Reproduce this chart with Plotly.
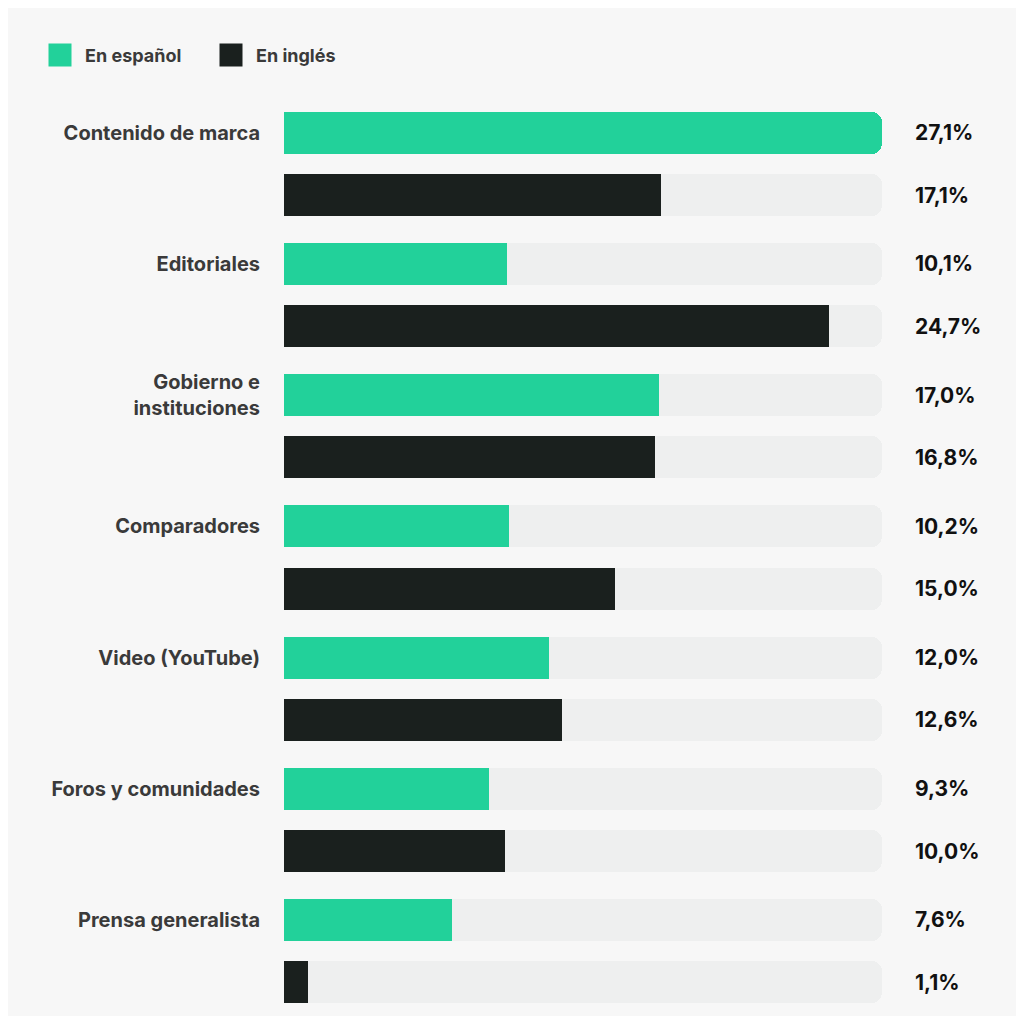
import plotly.graph_objects as go

# Data
categories = ["Contenido de marca", "Editoriales", "Gobierno e<br>instituciones", "Comparadores",
              "Video (YouTube)", "Foros y comunidades", "Prensa generalista"]
espanol = [27.1, 10.1, 17.0, 10.2, 12.0, 9.3, 7.6]
ingles = [17.1, 24.7, 16.8, 15.0, 12.6, 10.0, 1.1]
series_names = ["En español", "En inglés"]

GREEN = "#22D19A"
DARK = "#1A201E"
TRACK = "#EEEFEF"
BG = "#F7F7F7"
FONT = "Inter"

max_val = max(espanol + ingles)

# each category takes two rows: spanish then english (pairs slightly tighter)
rows_es = [2 * i for i in range(len(categories))]
rows_en = [2 * i + 0.95 for i in range(len(categories))]
all_rows = rows_es + rows_en
all_vals = espanol + ingles
BAR_W = 0.64

fig = go.Figure()

# background tracks
fig.add_trace(go.Bar(
    x=[max_val] * len(all_rows), y=all_rows, orientation='h',
    marker=dict(color=TRACK, cornerradius=10, line=dict(width=0)),
    width=BAR_W, showlegend=False, hoverinfo='skip'
))

fig.add_trace(go.Bar(
    x=espanol, y=rows_es, orientation='h', name=series_names[0],
    marker=dict(color=GREEN, cornerradius=10, line=dict(width=0)),
    width=BAR_W
))
fig.add_trace(go.Bar(
    x=ingles, y=rows_en, orientation='h', name=series_names[1],
    marker=dict(color=DARK, cornerradius=10, line=dict(width=0)),
    width=BAR_W
))

# value labels to the right of the tracks
for r, v in zip(all_rows, all_vals):
    fig.add_annotation(
        x=1.052, xref='paper', y=r, yref='y', xanchor='left',
        text=f"<b>{v:.1f}%</b>".replace('.', ','), showarrow=False,
        font=dict(size=21, color="#111111", family=FONT)
    )

# legend drawn by hand: coloured boxes + labels
legend_y = 1.049
for box_x, text_x, color, name in [(-0.3946, -0.336, GREEN, series_names[0]),
                                   (-0.1087, -0.0502, DARK, series_names[1])]:
    fig.add_annotation(x=box_x, y=legend_y, xref='paper', yref='paper', xanchor='left',
                       yanchor='middle', text="", width=22, height=22, bgcolor=color,
                       showarrow=False, borderpad=0)
    fig.add_annotation(x=text_x, y=legend_y, xref='paper', yref='paper', xanchor='left',
                       yanchor='middle', text=f"<b>{name}</b>", showarrow=False,
                       font=dict(size=18, color="#3a3a3a", family=FONT))

fig.update_layout(
    width=1008, height=1008,
    paper_bgcolor=BG, plot_bgcolor=BG,
    barmode='overlay', bargap=0,
    margin=dict(l=276, r=134, t=92, b=1),
    font=dict(family=FONT, color="#3a3a3a"),
    showlegend=False,
)
fig.update_xaxes(range=[0, max_val], visible=False, fixedrange=True)
fig.update_yaxes(
    range=[max(all_rows) + 0.5, -0.5],
    tickvals=rows_es, ticktext=[f"<b>{c}</b>" for c in categories],
    tickfont=dict(size=20, color="#3a3a3a", family=FONT),
    ticks='outside', ticklen=19, tickcolor='rgba(0,0,0,0)',
    showgrid=False, zeroline=False, showline=False
)

fig.write_html("out.html")
